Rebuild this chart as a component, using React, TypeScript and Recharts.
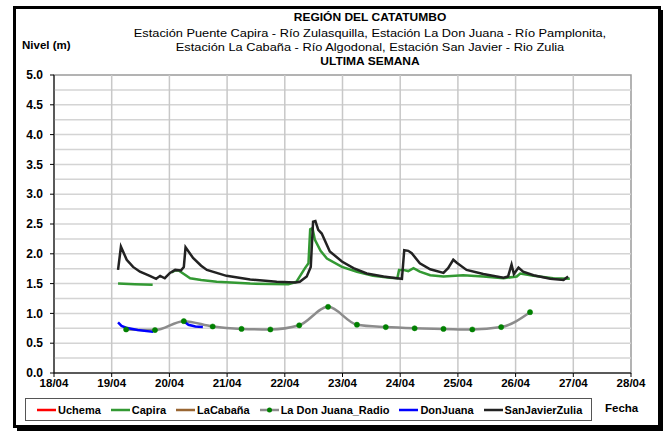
import React from "react";
import {
  LineChart,
  Line,
  XAxis,
  YAxis,
  ReferenceLine,
  ReferenceArea,
} from "recharts";

// Days of April (fractional) and river levels in metres
const sanJavierDays = [
  19.11, 19.16, 19.26, 19.37, 19.49, 19.66, 19.77, 19.84, 19.92, 20.01, 20.1,
  20.2, 20.25, 20.28, 20.41, 20.55, 20.65, 20.99, 21.4, 21.86, 22.18, 22.26,
  22.38, 22.45, 22.49, 22.53, 22.58, 22.64, 22.78, 22.99, 23.19, 23.42, 23.71,
  23.94, 24.03, 24.07, 24.14, 24.2, 24.34, 24.52, 24.75, 24.83, 24.92, 24.98,
  25.15, 25.44, 25.79, 25.87, 25.93, 25.97, 26.05, 26.13, 26.31, 26.6, 26.83,
  26.91,
];
const sanJavierLevels = [
  1.73, 2.12, 1.9, 1.78, 1.7, 1.63, 1.58, 1.63, 1.59, 1.68, 1.73, 1.72, 1.78,
  2.11, 1.93, 1.8, 1.73, 1.63, 1.57, 1.53, 1.52, 1.53, 1.62, 1.78, 2.54, 2.55,
  2.4, 2.34, 2.04, 1.87, 1.76, 1.67, 1.62, 1.59, 1.58, 2.06, 2.05, 2.01, 1.84,
  1.74, 1.68, 1.76, 1.9, 1.85, 1.73, 1.66, 1.6, 1.62, 1.82, 1.66, 1.77, 1.7,
  1.64, 1.58, 1.56, 1.62,
];

const capiraDays = [
  19.11, 19.4, 19.71, 19.85, 20.04, 20.1, 20.16, 20.25, 20.36, 20.55, 20.82,
  21.4, 22.06, 22.2, 22.35, 22.41, 22.44, 22.48, 22.52, 22.62, 22.73, 22.99,
  23.25, 23.53, 23.82, 23.95, 23.98, 24.05, 24.14, 24.23, 24.34, 24.52, 24.75,
  25.09, 25.44, 25.79, 26.02, 26.08, 26.31, 26.65, 26.94,
];
const capiraLevels = [
  1.5, 1.49, 1.48, null, 1.69, 1.72, 1.72, 1.66, 1.59, 1.56, 1.53, 1.5, 1.49,
  1.53, 1.76, 1.84, 2.41, 2.43, 2.24, 2.05, 1.92, 1.78, 1.7, 1.63, 1.6, 1.59,
  1.73, 1.73, 1.71, 1.76, 1.7, 1.64, 1.62, 1.64, 1.62, 1.59, 1.62, 1.67, 1.63,
  1.59, 1.58,
];

const radioDays = [
  19.25, 19.75, 20.25, 20.75, 21.25, 21.75, 22.25, 22.75, 23.25, 23.75, 24.25,
  24.75, 25.25, 25.75, 26.25,
];
const radioLevels = [
  0.73, 0.72, 0.87, 0.78, 0.74, 0.73, 0.8, 1.11, 0.81, 0.77, 0.75, 0.74, 0.73,
  0.77, 1.02,
];

const donJuanaDays = [
  19.11, 19.17, 19.25, 19.45, 19.72, 19.9, 20.23, 20.33, 20.45, 20.58,
];
const donJuanaLevels = [0.85, 0.79, 0.76, 0.72, 0.69, null, 0.88, 0.81, 0.78, 0.77];

const uchemaDays: number[] = [];
const uchemaLevels: number[] = [];
const laCabanaDays: number[] = [];
const laCabanaLevels: number[] = [];

const dayTicks = [18, 19, 20, 21, 22, 23, 24, 25, 26, 27, 28];
const levelTicks = [0, 0.5, 1, 1.5, 2, 2.5, 3, 3.5, 4, 4.5, 5];
const gridLevels = [
  0.25, 0.5, 0.75, 1, 1.25, 1.5, 1.75, 2, 2.25, 2.5, 2.75, 3, 3.25, 3.5, 3.75,
  4, 4.25, 4.5, 4.75,
];
const gridDays = [19, 20, 21, 22, 23, 24, 25, 26, 27];

const titleLines = [
  "REGIÓN DEL CATATUMBO",
  "Estación Puente Capira - Río Zulasquilla, Estación La Don Juana - Río Pamplonita,",
  "Estación La Cabaña - Río Algodonal, Estación San Javier - Rio Zulia",
  "ULTIMA SEMANA",
];

const toRows = (days: number[], levels: (number | null)[]) =>
  days.map((day, i) => ({ day, level: levels[i] }));

const series = [
  { name: "Uchema", color: "#ff0000", rows: toRows(uchemaDays, uchemaLevels), dot: false, type: "linear" },
  { name: "Capira", color: "#339933", rows: toRows(capiraDays, capiraLevels), dot: false, type: "linear" },
  { name: "LaCabaña", color: "#996633", rows: toRows(laCabanaDays, laCabanaLevels), dot: false, type: "linear" },
  { name: "La Don Juana_Radio", color: "#8c8c8c", rows: toRows(radioDays, radioLevels), dot: true, type: "monotone" },
  { name: "DonJuana", color: "#0000ff", rows: toRows(donJuanaDays, donJuanaLevels), dot: false, type: "linear" },
  { name: "SanJavierZulia", color: "#222222", rows: toRows(sanJavierDays, sanJavierLevels), dot: false, type: "linear" },
];

const FONT = "'Liberation Sans', Arial, sans-serif";

export default function App() {
  return (
    <div
      style={{
        position: "absolute",
        left: 0,
        top: 0,
        width: 663,
        height: 431,
        background: "#fff",
        fontFamily: FONT,
        overflow: "hidden",
      }}
    >
      {/* outer frame with drop shadow */}
      <div
        style={{
          position: "absolute",
          left: 13,
          top: 6,
          width: 642,
          height: 416,
          border: "3px solid #000",
          boxShadow: "4px 4px 0 #000",
        }}
      />
      {titleLines.map((t, i) => (
        <div
          key={i}
          style={{
            position: "absolute",
            left: 0,
            width: 740,
            top: 10 + i * 14.5,
            textAlign: "center",
            fontSize: i === 0 || i === 3 ? 12 : 12.8,
            lineHeight: "15px",
            fontWeight: i === 0 || i === 3 ? "bold" : "normal",
            color: "#000",
            whiteSpace: "nowrap",
            transform: "scaleY(0.92)",
          }}
        >
          {t}
        </div>
      ))}
      <div
        style={{
          position: "absolute",
          left: 22,
          top: 39,
          fontSize: 11.5,
          fontWeight: "bold",
        }}
      >
        Nivel (m)
      </div>
      <div
        style={{
          position: "absolute",
          left: 605,
          top: 402,
          fontSize: 11.5,
          fontWeight: "bold",
        }}
      >
        Fecha
      </div>

      <div style={{ position: "absolute", left: 0, top: 0 }}>
        <LineChart
          width={663}
          height={431}
          margin={{ top: 75, right: 32, bottom: 38, left: 0 }}
        >
          <XAxis
            type="number"
            dataKey="day"
            domain={[18, 28]}
            ticks={dayTicks}
            allowDataOverflow
            tickFormatter={(d: number) => `${d}/04`}
            tick={{ fontSize: 11.5, fontWeight: "bold", fill: "#000", fontFamily: FONT }}
            axisLine={{ stroke: "#000" }}
            tickLine={{ stroke: "#000" }}
            tickSize={4}
            height={20}
          />
          <YAxis
            type="number"
            domain={[0, 5]}
            ticks={levelTicks}
            allowDataOverflow
            tickFormatter={(v: number) => v.toFixed(1)}
            tick={{ fontSize: 12, fontWeight: "bold", fill: "#000", fontFamily: FONT }}
            axisLine={{ stroke: "#000" }}
            tickLine={{ stroke: "#000" }}
            tickSize={4}
            tickMargin={7}
            width={54}
          />
          {gridLevels.map((v) => (
            <ReferenceLine key={`h${v}`} y={v} stroke="#d4d4d4" strokeWidth={1.5} />
          ))}
          {gridDays.map((d) => (
            <ReferenceLine key={`v${d}`} x={d} stroke="#c8c8c8" strokeWidth={1.5} />
          ))}
          <ReferenceArea
            x1={18}
            x2={28}
            y1={0}
            y2={5}
            fill="none"
            stroke="#9a9a9a"
            strokeWidth={1.5}
          />
          {series.map((s) => (
            <Line
              key={s.name}
              name={s.name}
              data={s.rows}
              dataKey="level"
              type={s.type as any}
              stroke={s.color}
              strokeWidth={2.5}
              dot={s.dot ? { r: 2.6, fill: "#008000", stroke: "#008000", strokeWidth: 0.5 } : false}
              connectNulls={false}
              isAnimationActive={false}
            />
          ))}
        </LineChart>
      </div>

      {/* legend */}
      <div
        style={{
          position: "absolute",
          left: 25,
          top: 398,
          width: 567,
          height: 23,
          border: "1px solid #555",
          boxSizing: "border-box",
          display: "flex",
          alignItems: "center",
          paddingLeft: 11,
          fontSize: 11,
          fontWeight: "bold",
          whiteSpace: "nowrap",
        }}
      >
        {series.map((s) => (
          <div
            key={s.name}
            style={{ display: "flex", alignItems: "center", marginRight: 10 }}
          >
            <svg width={19} height={8} style={{ marginRight: 2 }}>
              <line x1={0} y1={4} x2={19} y2={4} stroke={s.color} strokeWidth={2.5} />
              {s.dot && <circle cx={9.5} cy={4} r={2.5} fill="#008000" />}
            </svg>
            <span>{s.name}</span>
          </div>
        ))}
      </div>
    </div>
  );
}
